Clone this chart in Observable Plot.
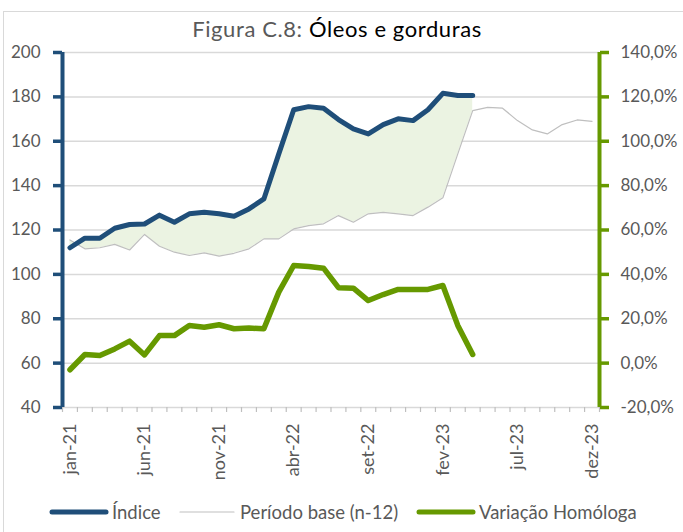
<!DOCTYPE html>
<html>
<head>
<meta charset="utf-8">
<script src="https://cdn.jsdelivr.net/npm/d3@7"></script>
<script src="https://cdn.jsdelivr.net/npm/@observablehq/plot@0.6"></script>
<style>
  html, body { margin: 0; padding: 0; background: #fff; }
  #wrap { position: relative; width: 683px; height: 532px; overflow: hidden; font-family: Lato, "Open Sans", sans-serif; }
  #frame { position: absolute; left: 3px; top: 11px; width: 720px; height: 600px; border-left: 1px solid #d9d9d9; border-top: 1px solid #d9d9d9; }
  #title { position: absolute; left: 0; top: 18px; width: 674px; text-align: center; font-size: 22px; line-height: 22px; letter-spacing: 0.6px; color: #000; white-space: nowrap; }
  #title .pre { color: #595959; }
  #chart { position: absolute; left: 0; top: 40px; }
  #legend { position: absolute; left: 0; top: 500px; width: 683px; height: 24px; font-size: 18.5px; color: #595959; }
  .item { position: absolute; top: 0; height: 24px; display: flex; align-items: center; white-space: nowrap; }
  .item svg { display: block; margin-right: 2px; }
</style>
</head>
<body>
<div id="wrap">
  <div id="frame"></div>
  <div id="title"><span class="pre">Figura C.8: </span>Óleos e gorduras</div>
  <div id="chart"></div>
  <div id="legend"></div>
</div>
<script>
// ---- data ----
const months = ["jan-21","fev-21","mar-21","abr-21","mai-21","jun-21","jul-21","ago-21","set-21","out-21","nov-21","dez-21",
                "jan-22","fev-22","mar-22","abr-22","mai-22","jun-22","jul-22","ago-22","set-22","out-22","nov-22","dez-22",
                "jan-23","fev-23","mar-23","abr-23","mai-23","jun-23","jul-23","ago-23","set-23","out-23","nov-23","dez-23"];
const indice = [112, 116.3, 116.3, 120.8, 122.5, 122.7, 126.7, 123.5, 127.3, 128, 127.3, 126.2,
                129.5, 134, 154.3, 174.2, 175.6, 174.9, 169.8, 165.6, 163.3, 167.5, 170.1, 169.3,
                174.2, 181.6, 180.6, 180.6];
const periodoBase = [115.5, 111.5, 112, 113.5, 111, 118, 112.7, 110, 108.5, 109.7, 108.2, 109.5,
                     111.5, 116, 116, 120.5, 122, 122.8, 126.5, 123.5, 127.3, 127.9, 127.3, 126.5,
                     130.3, 134.5, 154.3, 173.8, 175.3, 174.9, 169.3, 165.1, 163.3, 167.5, 169.6, 169];
const variacao = [-3.0, 3.9, 3.4, 6.4, 9.9, 3.7, 12.4, 12.4, 17, 16.2, 17.3, 15.5,
                  15.8, 15.5, 32, 44, 43.5, 42.8, 34, 33.8, 28.2, 30.9, 33.2, 33.2,
                  33.2, 35, 17, 3.9];
const leftTicks = [40, 60, 80, 100, 120, 140, 160, 180, 200];
const rightTicks = [-20, 0, 20, 40, 60, 80, 100, 120, 140];
const labelMonths = ["jan-21","jun-21","nov-21","abr-22","set-22","fev-23","jul-23","dez-23"];
const legendLabels = ["Índice", "Período base (n-12)", "Variação Homóloga"];

// ---- derived tables ----
const PCT_OFFSET = 60; // right axis value p maps to left-axis value p + 60
const idxRows = indice.map((v, i) => ({i, v}));
const baseRows = periodoBase.map((v, i) => ({i, v}));
const varRows = variacao.map((v, i) => ({i, v: v + PCT_OFFSET}));
const areaRows = indice.map((v, i) => ({i, top: v, bottom: periodoBase[i]}));
const minorTicks = d3.range(months.length + 1).map(k => k - 0.5);
const labelIdx = labelMonths.map(m => months.indexOf(m));
const fmtPct = p => p.toFixed(1).replace(".", ",") + "%";

const BLUE = "#1f4e79", GREEN = "#669900", GREY = "#bfbfbf", GRID = "#d9d9d9", TXT = "#595959";

const chart = Plot.plot({
  width: 683,
  height: 440,
  marginTop: 12,
  marginBottom: 73,
  marginLeft: 62,
  marginRight: 84,
  x: {domain: [-0.5, months.length - 0.5]},
  y: {domain: [40, 200]},
  style: {fontFamily: "Lato, sans-serif", fontSize: "17px", color: TXT, background: "transparent", overflow: "visible"},
  marks: [
    Plot.ruleY(leftTicks, {stroke: GRID, strokeWidth: 1.5}),
    Plot.areaY(areaRows, {x: "i", y1: "bottom", y2: "top", fill: "#ebf3e2"}),
    Plot.lineY(baseRows, {x: "i", y: "v", stroke: GREY, strokeWidth: 1.2}),
    Plot.lineY(idxRows, {x: "i", y: "v", stroke: BLUE, strokeWidth: 5, strokeLinecap: "round", strokeLinejoin: "round"}),
    Plot.lineY(varRows, {x: "i", y: "v", stroke: GREEN, strokeWidth: 5.5, strokeLinecap: "round", strokeLinejoin: "round"}),
    Plot.axisX(minorTicks, {tickSize: 5, stroke: GREY, strokeWidth: 1.2, tickFormat: () => "", label: null}),
    Plot.axisX(labelIdx, {tickSize: 0, tickPadding: 16, tickRotate: -90, tickFormat: i => months[i], label: null, fill: TXT, fontSize: 18}),
    Plot.axisY(leftTicks, {anchor: "left", tickSize: 9, tickPadding: 13, stroke: BLUE, strokeWidth: 3.5, tickFormat: d => String(d), label: null, fill: TXT}),
    Plot.axisY(rightTicks.map(p => p + PCT_OFFSET), {anchor: "right", tickSize: 9, tickPadding: 12, stroke: GREEN, strokeWidth: 3.5, tickFormat: d => fmtPct(d - PCT_OFFSET), label: null, fill: TXT}),
    Plot.ruleX([-0.5], {stroke: BLUE, strokeWidth: 4}),
    Plot.ruleX([months.length - 0.5], {stroke: GREEN, strokeWidth: 4})
  ]
});
document.getElementById("chart").appendChild(chart);

// ---- legend ----
const legendItems = [
  {label: legendLabels[0], color: BLUE, w: 5, left: 48},
  {label: legendLabels[1], color: GREY, w: 1.2, left: 176},
  {label: legendLabels[2], color: GREEN, w: 5, left: 415}
];
const leg = document.getElementById("legend");
for (const it of legendItems) {
  const d = document.createElement("div");
  d.className = "item";
  d.style.left = it.left + "px";
  d.innerHTML = `<svg width="62" height="10"><line x1="4" y1="5" x2="58" y2="5" stroke="${it.color}" stroke-width="${it.w}" stroke-linecap="round"/></svg><span>${it.label}</span>`;
  leg.appendChild(d);
}
</script>
</body>
</html>
